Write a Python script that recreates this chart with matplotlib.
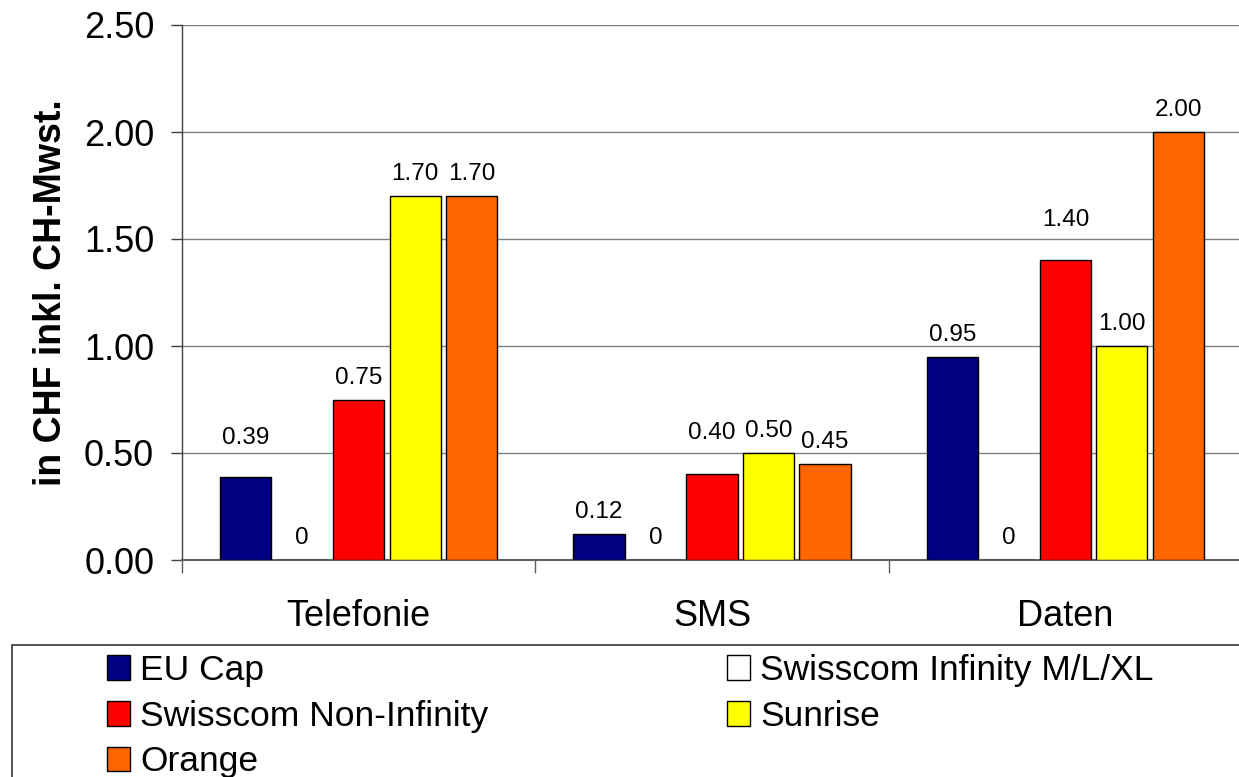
import numpy as np
import matplotlib.pyplot as plt
from matplotlib.patches import Rectangle, Patch

plt.rcParams['font.family'] = ['Liberation Sans', 'DejaVu Sans']

categories = ['Telefonie', 'SMS', 'Daten']
series = ['EU Cap', 'Swisscom Infinity M/L/XL', 'Swisscom Non-Infinity', 'Sunrise', 'Orange']
values = {
    'EU Cap': [0.39, 0.12, 0.95],
    'Swisscom Infinity M/L/XL': [0, 0, 0],
    'Swisscom Non-Infinity': [0.75, 0.40, 1.40],
    'Sunrise': [1.70, 0.50, 1.00],
    'Orange': [1.70, 0.45, 2.00],
}
colors = ['#000080', '#FFFFFF', '#FF0000', '#FFFF00', '#FF6600']
yticks = [0.0, 0.5, 1.0, 1.5, 2.0, 2.5]
# a few labels sit higher in the original (points of extra lift)
label_lift = {('EU Cap', 0): 12, ('Swisscom Non-Infinity', 1): 14, ('Swisscom Non-Infinity', 2): 13}

W, H = 1239, 777
fig = plt.figure(figsize=(W / 100, H / 100), dpi=100)
ax = fig.add_axes([182 / W, 1 - 560 / H, 1060 / W, 535 / H])

x = np.arange(len(categories))
step = 0.16
bw = 0.145
for i, s in enumerate(series):
    pos = x + (i - 2) * step
    ax.bar(pos, values[s], width=bw, color=colors[i], edgecolor='black', linewidth=1.0, zorder=3)
    for j, (px, v) in enumerate(zip(pos, values[s])):
        lab = '0' if v == 0 else '%.2f' % v
        dy = 11.5 + label_lift.get((s, j), 0)
        ax.annotate(lab, (px, v), xytext=(0, dy), textcoords='offset points',
                    ha='center', va='baseline', fontsize=17.5)

ax.set_xlim(-0.5, 2.5)
ax.set_ylim(0, 2.5)
ax.set_yticks(yticks)
ax.set_yticklabels(['%.2f' % t for t in yticks], fontsize=26)
ax.yaxis.grid(True, color='#808080', linewidth=1.0, zorder=0)
ax.tick_params(axis='y', length=8, width=1, color='#404040', pad=12)

ax.set_xticks([-0.5, 0.5, 1.5, 2.5])
ax.set_xticklabels([])
ax.set_xticks(x, minor=True)
ax.set_xticklabels(categories, minor=True, fontsize=26)
ax.tick_params(axis='x', which='major', length=9, width=1, color='#606060')
ax.tick_params(axis='x', which='minor', length=0, pad=28)

for sp in ['top', 'right']:
    ax.spines[sp].set_visible(False)
ax.spines['left'].set_color('#404040')
ax.spines['bottom'].set_color('#606060')
ax.spines['left'].set_linewidth(1.0)
ax.spines['bottom'].set_linewidth(1.5)

ax.set_ylabel('in CHF inkl. CH-Mwst.', fontsize=27, fontweight='bold', labelpad=11)

# legend frame running off the bottom and right edge
fig.patches.append(Rectangle((12 / W, -0.05), 1.1, 0.05 + 1 - 645 / H, transform=fig.transFigure,
                             facecolor='none', edgecolor='#333333', linewidth=1.2))

order = [0, 2, 4, 1, 3]
handles = [Patch(facecolor=colors[i], edgecolor='black', linewidth=1.0) for i in order]
labels = [series[i] for i in order]
fig.legend(handles, labels, loc='upper left', bbox_to_anchor=(107 / W, 1 - 654 / H),
           ncol=2, frameon=False, fontsize=25.5, borderpad=0, borderaxespad=0,
           handlelength=0.65, handleheight=0.68, handletextpad=0.28,
           labelspacing=0.36, columnspacing=6.75)

fig.savefig('out.png', dpi=100)
